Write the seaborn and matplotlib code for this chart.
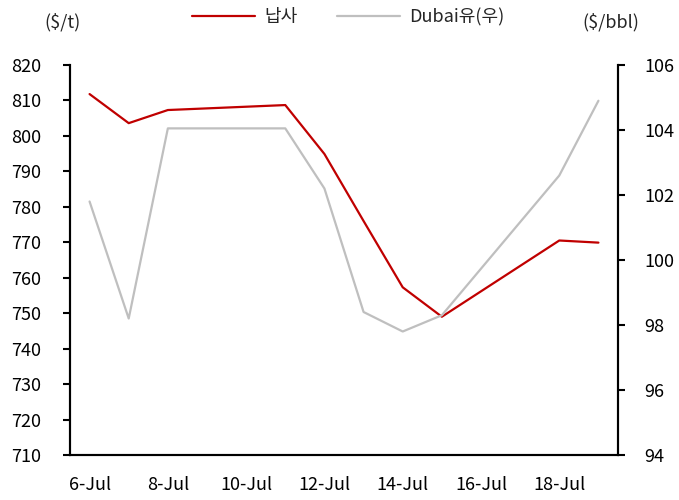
import matplotlib
matplotlib.use('Agg')
import matplotlib.pyplot as plt
import seaborn as sns
from matplotlib.ticker import FixedLocator, NullFormatter

# 데이터 (2022년 7월, 영업일 기준)
days = [6, 7, 8, 11, 12, 13, 14, 15, 18, 19]
naphtha = [811.8, 803.6, 807.3, 808.7, 794.9, 776.0, 757.3, 749.0, 770.5, 769.9]
dubai = [101.8, 98.2, 104.05, 104.05, 102.2, 98.4, 97.8, 98.3, 102.6, 104.9]

tick_days = [6, 8, 10, 12, 14, 16, 18]
tick_labels = ['6-Jul', '8-Jul', '10-Jul', '12-Jul', '14-Jul', '16-Jul', '18-Jul']
left_ticks = list(range(710, 821, 10))
right_ticks = list(range(94, 107, 2))

sns.set_style('white')
plt.rcParams['font.family'] = ['Noto Sans CJK KR', 'DejaVu Sans']
plt.rcParams['font.size'] = 13

fig, ax = plt.subplots(figsize=(6.79, 5), dpi=100)
fig.subplots_adjust(left=70 / 679, right=618 / 679, top=1 - 65 / 500, bottom=1 - 455 / 500)
ax2 = ax.twinx()

red = '#C00000'
grey = '#BFBFBF'
sns.lineplot(x=days, y=naphtha, ax=ax, color=red, linewidth=1.6, label='납사', legend=False)
sns.lineplot(x=days, y=dubai, ax=ax2, color=grey, linewidth=1.6, label='Dubai유(우)', legend=False)

# 축 설정
ax.set_xlim(5.5, 19.5)
ax.set_ylim(710, 820)
ax2.set_ylim(94, 106)
ax.set_yticks(left_ticks)
ax2.set_yticks(right_ticks)

# 날짜 경계에 눈금, 날짜 중앙에 라벨
ax.xaxis.set_major_locator(FixedLocator([d - 0.5 for d in range(6, 21, 2)]))
ax.xaxis.set_major_formatter(NullFormatter())
ax.xaxis.set_minor_locator(FixedLocator(tick_days))
ax.set_xticklabels(tick_labels, minor=True)

ax.tick_params(axis='x', which='major', direction='out', length=5, width=1.5, color='black')
ax.tick_params(axis='x', which='minor', length=0, pad=15, labelsize=13, colors='black')
ax.tick_params(axis='y', direction='out', length=5, width=1.5, pad=16, labelsize=13, colors='black')
ax2.tick_params(axis='y', direction='out', length=5, width=1.5, pad=14, labelsize=13, colors='black')
ax.tick_params(axis='y', left=True)
ax2.tick_params(axis='y', right=True)

for a in (ax, ax2):
    for side in ('left', 'right', 'bottom'):
        a.spines[side].set_visible(True)
        a.spines[side].set_color('black')
        a.spines[side].set_linewidth(1.5)
    a.spines['top'].set_visible(False)
    a.set_xlabel('')
    a.set_ylabel('')
    a.grid(False)

fig.text(62 / 679, 1 - 22 / 500, '($/t)', ha='center', va='center', fontsize=13)
fig.text(611 / 679, 1 - 22 / 500, '($/bbl)', ha='center', va='center', fontsize=13)

handles = ax.get_lines() + ax2.get_lines()
fig.legend(handles, [h.get_label() for h in handles], loc='center', ncol=2,
           bbox_to_anchor=(348 / 679, 1 - 17 / 500), frameon=False, fontsize=13,
           handlelength=3.5, columnspacing=2.2, handletextpad=0.5)

fig.savefig('out.png', dpi=100)
